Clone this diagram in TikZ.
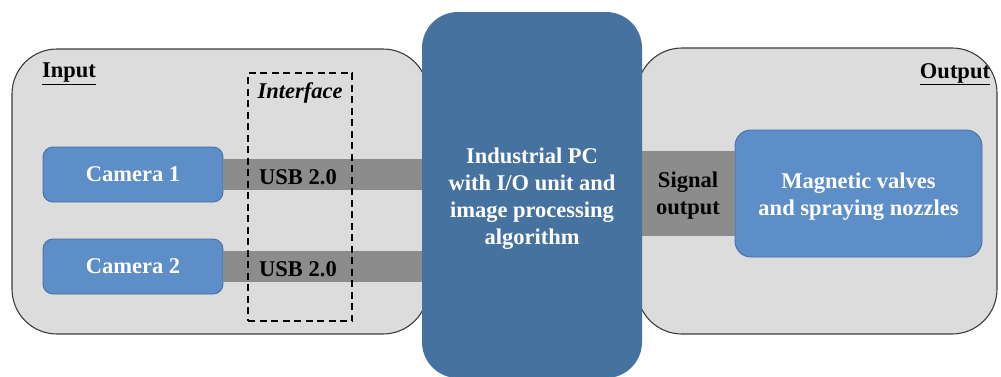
\documentclass[tikz,border=0pt]{standalone}
\usepackage{fontspec}
\setmainfont{Liberation Serif}
\definecolor{panelfill}{RGB}{220,220,220}
\definecolor{panelline}{RGB}{60,60,60}
\definecolor{bandgray}{RGB}{140,140,140}
\definecolor{camfill}{RGB}{94,142,199}
\definecolor{camline}{RGB}{70,110,165}
\definecolor{pcfill}{RGB}{70,114,160}
\begin{document}
\begin{tikzpicture}[x=1pt,y=-1pt,
  every node/.style={font=\bfseries\fontsize{22.5}{27}\selectfont, inner sep=0pt, outer sep=0pt},
  panel/.style={draw=panelline, line width=1.1pt, fill=panelfill, rounded corners=45pt},
  camera/.style={draw=camline, line width=0.9pt, fill=camfill, rounded corners=10pt, text=white, align=center},
  pcbox/.style={fill=pcfill, rounded corners=36pt, text=white, align=center},
  band/.style={draw=bandgray, line cap=butt},
  lbl/.style={text=black, align=center}]
\useasboundingbox (0,0) rectangle (1001,376);
\clip (0,0) rectangle (1001,376);
% panels
\node[panel, minimum width=416pt, minimum height=285pt] (inpanel) at (220,191.5) {};
\node[panel, minimum width=360pt, minimum height=286pt] (outpanel) at (817,191) {};
% cameras and output device
\node[camera, minimum width=180pt, minimum height=55pt] (cam1) at (133,174.5) {Camera 1};
\node[camera, minimum width=180pt, minimum height=55pt] (cam2) at (133,266.5) {Camera 2};
\node[camera, rounded corners=16pt, minimum width=247pt, minimum height=127pt] (mag) at (858.5,193.5) {};
\node[text=white, align=center] (magtext) at (858.5,197) {Magnetic valves\\and spraying nozzles};
\coordinate (pcw) at (422,195);
\coordinate (pce) at (642,195);
% bands
\draw[band, line width=31pt] (cam1.east) -- (cam1.east -| pcw);
\draw[band, line width=31pt] (cam2.east) -- (cam2.east -| pcw);
\draw[band, line width=85pt] (pce |- mag.west) -- (mag.west);
\node[lbl] (usb1) at (298,177) {USB 2.0};
\node[lbl] (usb2) at (298,269) {USB 2.0};
\node[lbl] (sig) at (688,196) {Signal\\output};
% interface
\node[draw=black, line width=1.4pt, dash pattern=on 7pt off 4.5pt, minimum width=104pt, minimum height=248pt] (iface) at (300,197) {};
\node[lbl, font=\bfseries\itshape\fontsize{22.5}{27}\selectfont] (ifacelbl) at (300,93) {Interface};
% PC
\node[pcbox, minimum width=220pt, minimum height=366pt] (pc) at (532,195) {};
\node[text=white, align=center] (pctext) at (532,199) {Industrial PC\\with I/O unit and\\image processing\\algorithm};
% titles
\node[lbl, anchor=west] (intitle) at (42,74) {\underline{Input}};
\node[lbl, anchor=east] (outtitle) at (990,74) {\underline{Output}};
\end{tikzpicture}
\end{document}
